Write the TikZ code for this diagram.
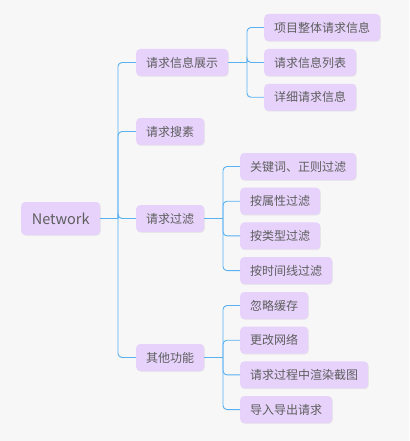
\documentclass[tikz,border=0pt]{standalone}
\usepackage{fontspec}
\setmainfont{Noto Sans CJK SC}
\usetikzlibrary{shadows}
\definecolor{bgcol}{HTML}{F7F7F7}
\definecolor{boxfill}{HTML}{E6D2FB}
\definecolor{boxtext}{HTML}{5E5E5E}
\definecolor{linkcol}{HTML}{58B0F5}

\begin{document}
\begin{tikzpicture}[x=1pt,y=-1pt,
  topic/.style={anchor=west, fill=boxfill, text=boxtext, rounded corners=4pt,
    minimum height=27pt, inner xsep=10pt, inner ysep=0pt,
    font=\fontsize{12}{12}\selectfont,
    drop shadow={shadow xshift=0.6pt, shadow yshift=-0.8pt, opacity=0.12}},
  root/.style={topic, minimum height=33pt, minimum width=79pt,
    font=\fontsize{14.5}{14.5}\selectfont},
  link/.style={draw=linkcol, line width=0.9pt, rounded corners=4pt}]
% Background
\fill[bgcol] (0,0) rectangle (409,441);
\useasboundingbox (0,0) rectangle (409,441);

% Root and first level
\node[root] (net) at (21,218.5) {Network};
\node[topic] (show) at (136,62.5) {请求信息展示};
\node[topic] (search) at (136,131.5) {请求搜素};
\node[topic] (filter) at (136,218.5) {请求过滤};
\node[topic] (other) at (136,357.5) {其他功能};

% Second level
\node[topic] (show1) at (264,27.5) {项目整体请求信息};
\node[topic] (show2) at (264,62.5) {请求信息列表};
\node[topic] (show3) at (264,97.3) {详细请求信息};

\node[topic] (filter1) at (240,166.5) {关键词、正则过滤};
\node[topic] (filter2) at (240,201.2) {按属性过滤};
\node[topic] (filter3) at (240,235.9) {按类型过滤};
\node[topic] (filter4) at (240,270.6) {按时间线过滤};

\node[topic] (other1) at (240,305.5) {忽略缓存};
\node[topic] (other2) at (240,340.2) {更改网络};
\node[topic] (other3) at (240,374.9) {请求过程中渲染截图};
\node[topic] (other4) at (240,409.6) {导入导出请求};

% Junctions
\coordinate (j0) at (118,218.5);
\coordinate (j1) at (247,62.5);
\coordinate (j3) at (223,218.5);
\coordinate (j4) at (223,357.5);

% Links
\draw[link] (net.east) -- (j0);
\foreach \n in {show,search,filter,other}
  \draw[link] (j0) |- (\n.west);
\draw[link] (show.east) -- (j1);
\foreach \n in {show1,show2,show3}
  \draw[link] (j1) |- (\n.west);
\draw[link] (filter.east) -- (j3);
\foreach \n in {filter1,filter2,filter3,filter4}
  \draw[link] (j3) |- (\n.west);
\draw[link] (other.east) -- (j4);
\foreach \n in {other1,other2,other3,other4}
  \draw[link] (j4) |- (\n.west);

\end{tikzpicture}
\end{document}
